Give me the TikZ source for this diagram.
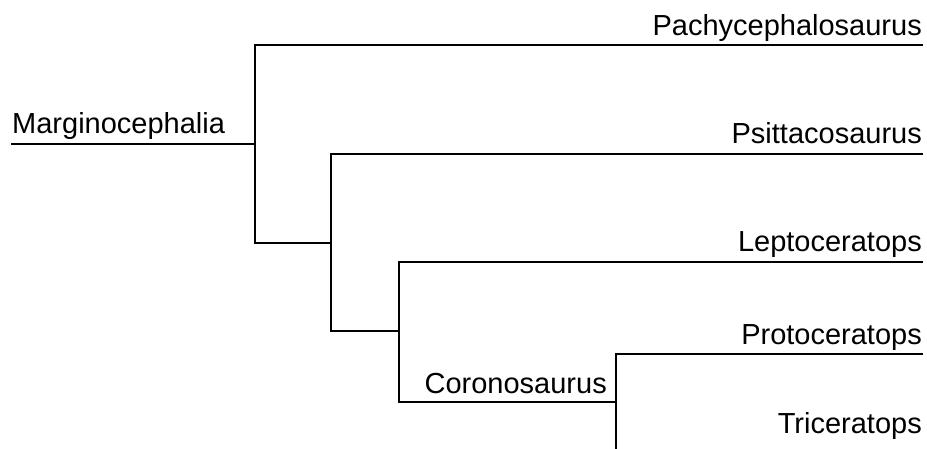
\documentclass[tikz,border=0pt]{standalone}
\usepackage{fontspec}
\setmainfont{Liberation Sans}
\begin{document}
\begin{tikzpicture}[x=1pt,y=-1pt,
  lbl/.style={font=\fontsize{29}{34}\selectfont, inner sep=0pt},
  br/.style={line width=2pt, line cap=rect}]
\useasboundingbox (0,0) rectangle (927,448);
% branch coordinates
\coordinate (root) at (12,144);
\coordinate (n1) at (255,144);
\coordinate (n1t) at (255,45);
\coordinate (n1b) at (255,243);
\coordinate (n2) at (331,243);
\coordinate (n2t) at (331,154);
\coordinate (n2b) at (331,331);
\coordinate (n3) at (399,331);
\coordinate (n3t) at (399,262);
\coordinate (n3b) at (399,402);
\coordinate (n4) at (616,402);
\coordinate (n4t) at (616,354);
\coordinate (n4b) at (616,452);
\coordinate (pachy) at (922,45);
\coordinate (psit) at (922,154);
\coordinate (lepto) at (922,262);
\coordinate (proto) at (922,354);
\coordinate (tric) at (922,452);
% branches
\draw[br] (root) -- (n1);
\draw[br] (pachy) -- (n1t) -- (n1b) -- (n2);
\draw[br] (psit) -- (n2t) -- (n2b) -- (n3);
\draw[br] (lepto) -- (n3t) -- (n3b) -- (n4);
\draw[br] (proto) -- (n4t) -- (n4b) -- (tric);
% labels
\node[lbl, anchor=base west] (lmarg) at (12,133) {Marginocephalia};
\node[lbl, anchor=base east] (lpachy) at (922,35) {Pachycephalosaurus};
\node[lbl, anchor=base east] (lpsit) at (922,143) {Psittacosaurus};
\node[lbl, anchor=base east] (llepto) at (922,251) {Leptoceratops};
\node[lbl, anchor=base east] (lproto) at (922,344) {Protoceratops};
\node[lbl, anchor=base east] (ltric) at (922,433) {Triceratops};
\node[lbl, anchor=base east] (lcoro) at (607,393) {Coronosaurus};
\end{tikzpicture}
\end{document}
